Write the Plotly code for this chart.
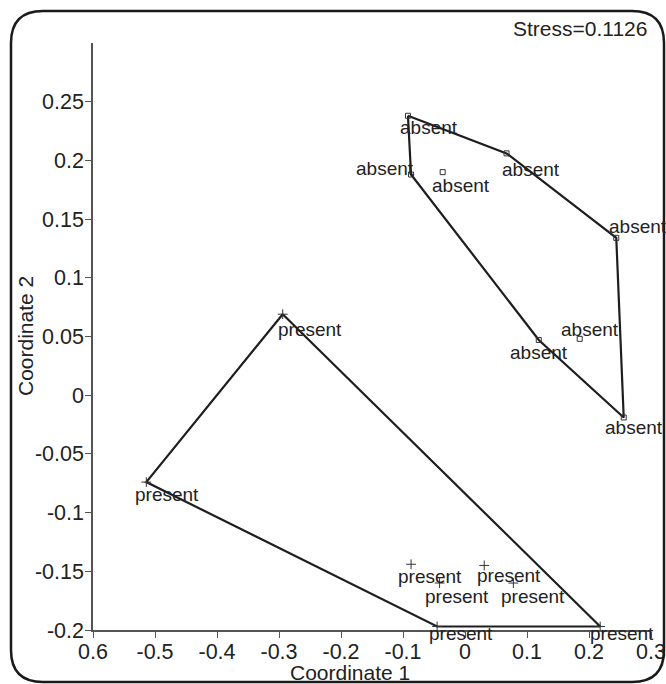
import plotly.graph_objects as go

# ---- data ----
absent_x = [-0.092, -0.087, -0.036, 0.067, 0.244, 0.185, 0.119, 0.256]
absent_y = [0.238, 0.188, 0.190, 0.206, 0.134, 0.048, 0.047, -0.019]
present_x = [-0.294, -0.514, -0.087, 0.031, -0.041, 0.078, -0.045, 0.218]
present_y = [0.069, -0.074, -0.144, -0.145, -0.160, -0.160, -0.197, -0.197]
absent_hull = [0, 3, 4, 7, 6, 1, 0]
present_hull = [0, 7, 6, 1, 0]
x_tickvals = [-0.6, -0.5, -0.4, -0.3, -0.2, -0.1, 0.0, 0.1, 0.2, 0.3]
x_ticktext = ["0.6", "-0.5", "-0.4", "-0.3", "-0.2", "-0.1", "0", "0.1", "0.2", "0.3"]
y_tickvals = [-0.2, -0.15, -0.1, -0.05, 0.0, 0.05, 0.1, 0.15, 0.2, 0.25]
y_ticktext = ["-0.2", "-0.15", "-0.1", "-0.05", "0", "0.05", "0.1", "0.15", "0.2", "0.25"]
stress_text = "Stress=0.1126"

# label offsets in pixels (dx right, dy down)
absent_dx = [21, -26, 18, 24, 22, 10, 0, 10]
absent_dy = [12, -6, 13, 16, -11, -9, 12, 10]
present_dx = [27, 21, 19, 25, 17, 20, 24, 22]
present_dy = [15, 12, 12, 10, 13, 13, 7, 7]

W, H = 666, 684
ML, MR, MT, MB = 93, 15, 43, 54
PW, PH = W - ML - MR, H - MT - MB

TEXT = "#222222"
FONT = "Liberation Sans, Arial, sans-serif"

fig = go.Figure()

fig.add_trace(go.Scatter(
    x=[absent_x[i] for i in absent_hull], y=[absent_y[i] for i in absent_hull],
    mode="lines", line=dict(color="#1e1e1e", width=2.2), hoverinfo="skip", showlegend=False))
fig.add_trace(go.Scatter(
    x=[present_x[i] for i in present_hull], y=[present_y[i] for i in present_hull],
    mode="lines", line=dict(color="#1e1e1e", width=2.2), hoverinfo="skip", showlegend=False))

fig.add_trace(go.Scatter(
    x=absent_x, y=absent_y, mode="markers",
    marker=dict(symbol="square-open", size=5, color="#333", line=dict(width=1, color="#333")),
    showlegend=False))
fig.add_trace(go.Scatter(
    x=present_x, y=present_y, mode="markers",
    marker=dict(symbol="cross-thin-open", size=7, color="#333", line=dict(width=1, color="#333")),
    showlegend=False))

annotations = []
for x, y, dx, dy in zip(absent_x, absent_y, absent_dx, absent_dy):
    annotations.append(dict(x=x, y=y, xref="x", yref="y", text="absent", showarrow=False,
                            xanchor="center", yanchor="middle", xshift=dx, yshift=-dy,
                            font=dict(size=19, color=TEXT, family=FONT)))
for x, y, dx, dy in zip(present_x, present_y, present_dx, present_dy):
    annotations.append(dict(x=x, y=y, xref="x", yref="y", text="present", showarrow=False,
                            xanchor="center", yanchor="middle", xshift=dx, yshift=-dy,
                            font=dict(size=19, color=TEXT, family=FONT)))

def px2paper(px, py):
    return (px - ML) / PW, (H - MB - py) / PH

# stress text
sx, sy = px2paper(649, 29)
annotations.append(dict(x=sx, y=sy, xref="paper", yref="paper", text=stress_text, showarrow=False,
                        xanchor="right", yanchor="middle", font=dict(size=21, color=TEXT, family=FONT)))
# axis titles
tx, ty = px2paper(350, 672)
annotations.append(dict(x=tx, y=ty, xref="paper", yref="paper", text="Coordinate 1", showarrow=False,
                        xanchor="center", yanchor="middle", font=dict(size=21, color=TEXT, family=FONT)))
tx, ty = px2paper(25, 336)
annotations.append(dict(x=tx, y=ty, xref="paper", yref="paper", text="Coordinate 2", showarrow=False,
                        textangle=-90, xanchor="center", yanchor="middle",
                        font=dict(size=21, color=TEXT, family=FONT)))

# rounded border
x0, y0, x1, y1, r = 11, 11, 664, 682, 32
def P(px, py):
    a, b = px2paper(px, py)
    return f"{a:.5f},{b:.5f}"
path = (f"M {P(x0 + r, y0)} L {P(x1 - r, y0)} Q {P(x1, y0)} {P(x1, y0 + r)} "
        f"L {P(x1, y1 - r)} Q {P(x1, y1)} {P(x1 - r, y1)} "
        f"L {P(x0 + r, y1)} Q {P(x0, y1)} {P(x0, y1 - r)} "
        f"L {P(x0, y0 + r)} Q {P(x0, y0)} {P(x0 + r, y0)} Z")

fig.update_layout(
    width=W, height=H,
    margin=dict(l=ML, r=MR, t=MT, b=MB, autoexpand=False),
    paper_bgcolor="white", plot_bgcolor="white",
    annotations=annotations,
    shapes=[dict(type="path", xref="paper", yref="paper", path=path,
                 line=dict(color="#1a1a1a", width=2.5), fillcolor="rgba(0,0,0,0)", layer="above")],
    xaxis=dict(range=[-0.6, 0.3], tickvals=x_tickvals, ticktext=x_ticktext, automargin=False,
               showgrid=False, zeroline=False, showline=True, linecolor="#555", linewidth=1.5,
               ticks="outside", ticklen=6, tickcolor="#555", tickwidth=1.2, ticklabelstandoff=-5,
               tickfont=dict(size=21.5, color=TEXT, family=FONT)),
    yaxis=dict(range=[-0.2, 0.3], tickvals=y_tickvals, ticktext=y_ticktext, automargin=False,
               showgrid=False, zeroline=False, showline=True, linecolor="#555", linewidth=1.5,
               ticks="outside", ticklen=6, tickcolor="#555", tickwidth=1.2, ticklabelstandoff=-3,
               tickfont=dict(size=21.5, color=TEXT, family=FONT)),
    font=dict(family=FONT, color=TEXT),
)

fig.write_html("out.html", config={"displayModeBar": False},
               post_script="document.body.style.margin='0';document.body.style.overflow='hidden';")
